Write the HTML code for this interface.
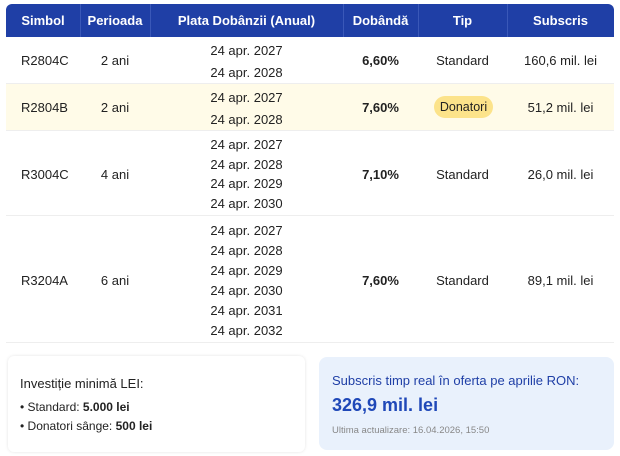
<!DOCTYPE html>
<html><head><meta charset="utf-8"><style>
*{margin:0;padding:0;box-sizing:border-box}
body{width:620px;height:456px;background:#fff;font-family:"Liberation Sans",sans-serif;font-size:13px;color:#222;position:relative;overflow:hidden}
.hdr{position:absolute;left:6px;top:4px;width:608px;height:33px;background:#1f3fa6;border-radius:6px 6px 0 0}
.h{position:absolute;top:4px;height:33px;line-height:33px;color:#fff;font-weight:bold;text-align:center}
.vd{position:absolute;top:4px;height:33px;width:1px;background:#3a58b8}
.row{position:absolute;left:6px;width:608px;border-bottom:1px solid #eee}
.c{position:absolute;text-align:center}
.l{position:absolute;left:15px}
.b{font-weight:bold}
</style></head><body>
<div class="hdr"></div>
<div class="vd" style="left:80px"></div><div class="vd" style="left:150px"></div><div class="vd" style="left:343px"></div><div class="vd" style="left:418px"></div><div class="vd" style="left:507px"></div>
<div class="h" style="left:6px;width:74px">Simbol</div>
<div class="h" style="left:80px;width:70px">Perioada</div>
<div class="h" style="left:150px;width:193px">Plata Dobânzii (Anual)</div>
<div class="h" style="left:343px;width:75px">Dobândă</div>
<div class="h" style="left:418px;width:89px">Tip</div>
<div class="h" style="left:507px;width:107px">Subscris</div>

<div class="row" style="top:37px;height:47px">
<div class="l" style="top:16px">R2804C</div>
<div class="c" style="left:74px;width:70px;top:16px">2 ani</div>
<div class="c" style="left:144px;width:193px;top:3px;line-height:22px">24 apr. 2027<br>24 apr. 2028</div>
<div class="c b" style="left:337px;width:75px;top:16px">6,60%</div>
<div class="c" style="left:412px;width:89px;top:16px">Standard</div>
<div class="c" style="left:501px;width:107px;top:16px">160,6 mil. lei</div>
</div>
<div class="row" style="top:84px;height:47px;background:#fffbe8">
<div class="l" style="top:16px">R2804B</div>
<div class="c" style="left:74px;width:70px;top:16px">2 ani</div>
<div class="c" style="left:144px;width:193px;top:3px;line-height:22px">24 apr. 2027<br>24 apr. 2028</div>
<div class="c b" style="left:337px;width:75px;top:16px">7,60%</div>
<div style="position:absolute;left:428px;top:12px;width:59px;height:22px;border-radius:11px;background:#fce38a;text-align:center;line-height:22px;font-size:12.5px">Donatori</div>
<div class="c" style="left:501px;width:107px;top:16px">51,2 mil. lei</div>
</div>
<div class="row" style="top:131px;height:85px">
<div class="l" style="top:36px">R3004C</div>
<div class="c" style="left:74px;width:70px;top:36px">4 ani</div>
<div class="c" style="left:144px;width:193px;top:4px;line-height:19.7px">24 apr. 2027<br>24 apr. 2028<br>24 apr. 2029<br>24 apr. 2030</div>
<div class="c b" style="left:337px;width:75px;top:36px">7,10%</div>
<div class="c" style="left:412px;width:89px;top:36px">Standard</div>
<div class="c" style="left:501px;width:107px;top:36px">26,0 mil. lei</div>
</div>
<div class="row" style="top:216px;height:127px">
<div class="l" style="top:57px">R3204A</div>
<div class="c" style="left:74px;width:70px;top:57px">6 ani</div>
<div class="c" style="left:144px;width:193px;top:5px;line-height:20px">24 apr. 2027<br>24 apr. 2028<br>24 apr. 2029<br>24 apr. 2030<br>24 apr. 2031<br>24 apr. 2032</div>
<div class="c b" style="left:337px;width:75px;top:57px">7,60%</div>
<div class="c" style="left:412px;width:89px;top:57px">Standard</div>
<div class="c" style="left:501px;width:107px;top:57px">89,1 mil. lei</div>
</div>

<div style="position:absolute;left:8px;top:356px;width:297px;height:96px;border-radius:6px;box-shadow:0 0 3px #e4e4e4">
<div style="position:absolute;left:12px;top:20px;font-size:13px">Investiție minimă LEI:</div>
<div style="position:absolute;left:12px;top:44px;font-size:12px">• Standard: <b>5.000 lei</b></div>
<div style="position:absolute;left:12px;top:63px;font-size:12px">• Donatori sânge: <b>500 lei</b></div>
</div>
<div style="position:absolute;left:319px;top:357px;width:295px;height:93px;border-radius:8px;background:#e9f1fc">
<div style="position:absolute;left:13px;top:16px;color:#1f3fa6;font-size:13px">Subscris timp real în oferta pe aprilie RON:</div>
<div style="position:absolute;left:13px;top:38px;color:#1f48b8;font-size:18px;font-weight:bold">326,9 mil. lei</div>
<div style="position:absolute;left:13px;top:68px;color:#888;font-size:9.5px">Ultima actualizare: 16.04.2026, 15:50</div>
</div>
</body></html>
